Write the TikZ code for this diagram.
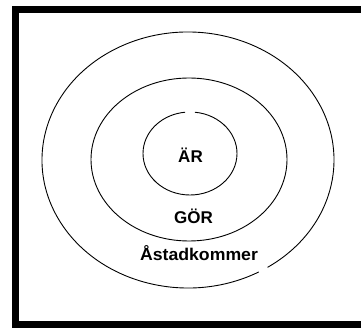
\documentclass[tikz,border=0pt]{standalone}
\usepackage{fontspec}
\setmainfont{Liberation Sans}
\begin{document}
\begin{tikzpicture}[x=1pt,y=-1pt,
  ring/.style={draw=black,line width=0.9pt},
  lbl/.style={font=\bfseries\fontsize{17}{20}\selectfont,inner sep=0pt,anchor=base}]
\useasboundingbox (0,0) rectangle (361,328);
% frame (open on the right)
\draw[line width=7pt,line join=miter] (361,9.5) -- (15.5,9.5) -- (15.5,324.5) -- (361,324.5);
% outer ring with small gap at lower right
\draw[ring] ([shift={(61:146 and 128)}]188,160) arc[start angle=61,end angle=417,x radius=146,y radius=128];
% middle ring
\draw[ring] (189,159.5) ellipse[x radius=98,y radius=81.5];
% inner ring with small gap at top
\draw[ring] ([shift={(276:47 and 41.5)}]190,153.5) arc[start angle=276,end angle=624,x radius=47,y radius=41.5];
% labels
\node[lbl] (ar) at (190.5,163) {ÄR};
\node[lbl] (gor) at (193.5,224) {GÖR};
\node[lbl,xscale=1.04] (ast) at (199,261) {Åstadkommer};
\end{tikzpicture}
\end{document}
